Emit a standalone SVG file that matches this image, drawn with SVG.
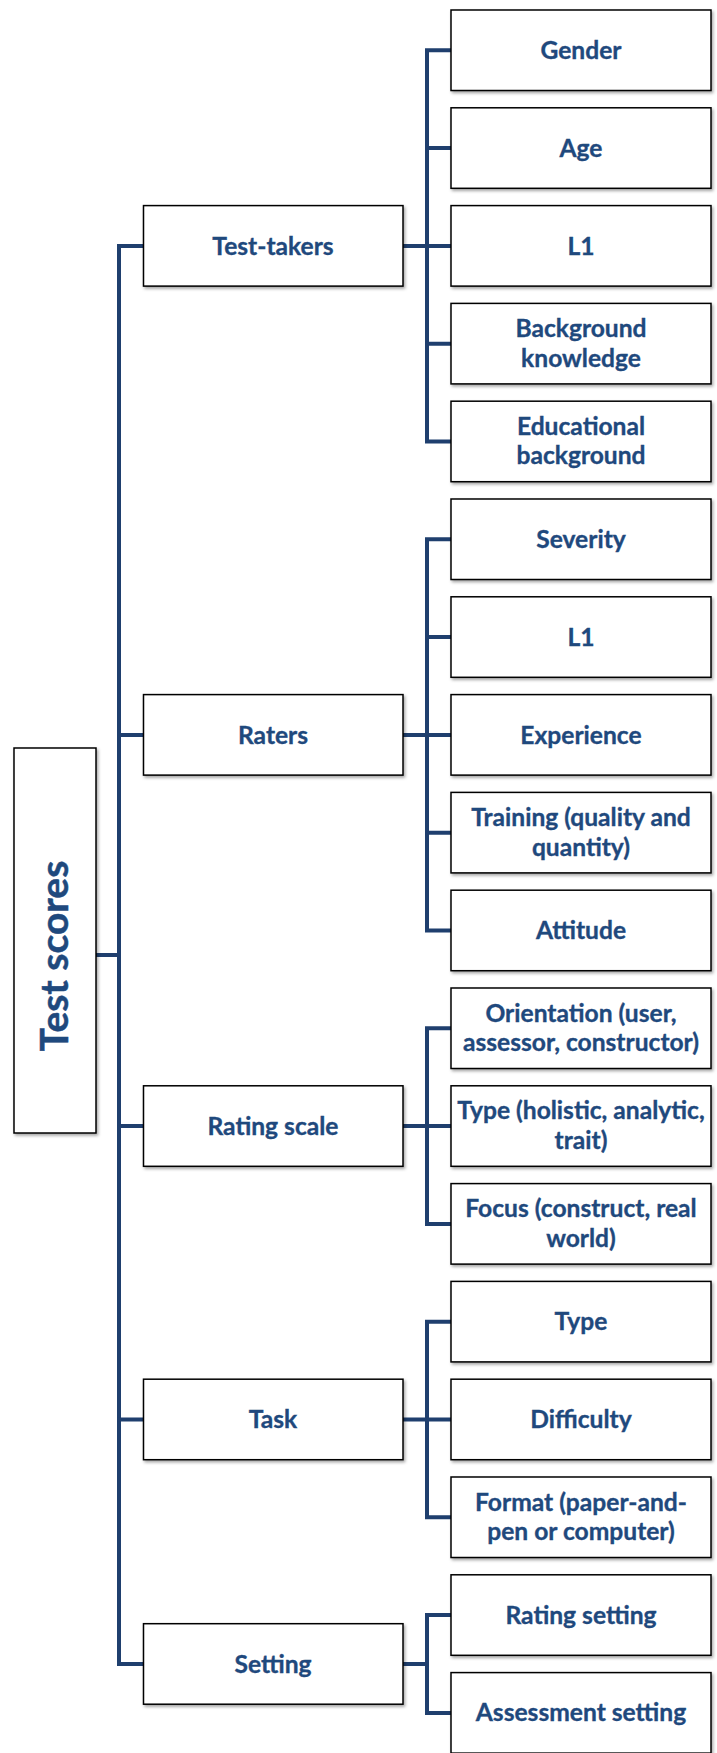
<svg xmlns="http://www.w3.org/2000/svg" width="717" height="1753" viewBox="0 0 717 1753">
  <defs>
    <filter id="shadow" x="-10%" y="-10%" width="130%" height="140%">
      <feDropShadow dx="1.5" dy="2" stdDeviation="1.5" flood-color="#000" flood-opacity="0.35"/>
    </filter>
  </defs>
  <style>
    .box { fill: #ffffff; stroke: #000000; stroke-width: 1.5; filter: url(#shadow); }
    .lbl { font-family: Lato, "Open Sans", "Liberation Sans", sans-serif; font-weight: 700; font-size: 24.6px; fill: #1F497D; stroke: #1F497D; stroke-width: 0.35; text-anchor: middle; }
    .root { font-size: 39px; stroke-width: 0.5; }
    .wire { fill: none; stroke: #1F3F6E; stroke-width: 4; stroke-linecap: square; stroke-linejoin: miter; }
  </style>

  <!-- connectors -->
  <g id="connectors" class="wire">
    <!-- root to category trunk -->
    <path d="M96 955 H119"/>
    <path d="M119 245.9 V1664"/>
    <path d="M119 245.9 H143.5 M119 734.9 H143.5 M119 1126 H143.5 M119 1419.5 H143.5 M119 1664 H143.5"/>
    <!-- Test-takers -->
    <path d="M403 245.9 H427 M427 50.3 V441.5 M427 50.3 H451 M427 148 H451 M427 245.9 H451 M427 343.7 H451 M427 441.5 H451"/>
    <!-- Raters -->
    <path d="M403 734.9 H427 M427 539.3 V930.5 M427 539.3 H451 M427 637 H451 M427 734.9 H451 M427 832.7 H451 M427 930.5 H451"/>
    <!-- Rating scale -->
    <path d="M403 1126 H427 M427 1028.3 V1223.9 M427 1028.3 H451 M427 1126 H451 M427 1223.9 H451"/>
    <!-- Task -->
    <path d="M403 1419.5 H427 M427 1321.7 V1517.3 M427 1321.7 H451 M427 1419.5 H451 M427 1517.3 H451"/>
    <!-- Setting -->
    <path d="M403 1664 H427 M427 1615 V1712.9 M427 1615 H451 M427 1712.9 H451"/>
  </g>

  <!-- root -->
  <g id="test-scores">
    <rect class="box" x="14" y="748" width="82" height="385"/>
    <text class="lbl root" transform="translate(68 956) rotate(-90)" x="0" y="0">Test scores</text>
  </g>

  <!-- categories -->
  <g id="test-takers">
    <rect class="box" x="143.5" y="205.6" width="259.5" height="80.5"/>
    <text class="lbl" x="273" y="254.5">Test-takers</text>
  </g>
  <g id="raters">
    <rect class="box" x="143.5" y="694.6" width="259.5" height="80.5"/>
    <text class="lbl" x="273" y="743.5">Raters</text>
  </g>
  <g id="rating-scale">
    <rect class="box" x="143.5" y="1085.8" width="259.5" height="80.5"/>
    <text class="lbl" x="273" y="1134.5">Rating scale</text>
  </g>
  <g id="task">
    <rect class="box" x="143.5" y="1379.2" width="259.5" height="80.5"/>
    <text class="lbl" x="273" y="1428">Task</text>
  </g>
  <g id="setting">
    <rect class="box" x="143.5" y="1623.7" width="259.5" height="80.5"/>
    <text class="lbl" x="273" y="1672.5">Setting</text>
  </g>

  <!-- Test-takers factors -->
  <g id="gender">
    <rect class="box" x="451" y="10" width="260" height="80.5"/>
    <text class="lbl" x="581" y="58.8">Gender</text>
  </g>
  <g id="age">
    <rect class="box" x="451" y="107.8" width="260" height="80.5"/>
    <text class="lbl" x="581" y="156.5">Age</text>
  </g>
  <g id="l1-test-takers">
    <rect class="box" x="451" y="205.6" width="260" height="80.5"/>
    <text class="lbl" x="581" y="254.5">L1</text>
  </g>
  <g id="background-knowledge">
    <rect class="box" x="451" y="303.4" width="260" height="80.5"/>
    <text class="lbl" x="581" y="337">Background</text>
    <text class="lbl" x="581" y="366.5">knowledge</text>
  </g>
  <g id="educational-background">
    <rect class="box" x="451" y="401.2" width="260" height="80.5"/>
    <text class="lbl" x="581" y="434.8">Educational</text>
    <text class="lbl" x="581" y="464.3">background</text>
  </g>

  <!-- Raters factors -->
  <g id="severity">
    <rect class="box" x="451" y="499" width="260" height="80.5"/>
    <text class="lbl" x="581" y="547.8">Severity</text>
  </g>
  <g id="l1-raters">
    <rect class="box" x="451" y="596.8" width="260" height="80.5"/>
    <text class="lbl" x="581" y="645.5">L1</text>
  </g>
  <g id="experience">
    <rect class="box" x="451" y="694.6" width="260" height="80.5"/>
    <text class="lbl" x="581" y="743.5">Experience</text>
  </g>
  <g id="training">
    <rect class="box" x="451" y="792.4" width="260" height="80.5"/>
    <text class="lbl" x="581" y="826">Training (quality and</text>
    <text class="lbl" x="581" y="855.5">quantity)</text>
  </g>
  <g id="attitude">
    <rect class="box" x="451" y="890.2" width="260" height="80.5"/>
    <text class="lbl" x="581" y="939">Attitude</text>
  </g>

  <!-- Rating scale factors -->
  <g id="orientation">
    <rect class="box" x="451" y="988" width="260" height="80.5"/>
    <text class="lbl" x="581" y="1021.6">Orientation (user,</text>
    <text class="lbl" x="581" y="1051.1">assessor, constructor)</text>
  </g>
  <g id="scale-type">
    <rect class="box" x="451" y="1085.8" width="260" height="80.5"/>
    <text class="lbl" x="581" y="1119.4">Type (holistic, analytic,</text>
    <text class="lbl" x="581" y="1148.9">trait)</text>
  </g>
  <g id="focus">
    <rect class="box" x="451" y="1183.6" width="260" height="80.5"/>
    <text class="lbl" x="581" y="1217.2">Focus (construct, real</text>
    <text class="lbl" x="581" y="1246.7">world)</text>
  </g>

  <!-- Task factors -->
  <g id="task-type">
    <rect class="box" x="451" y="1281.4" width="260" height="80.5"/>
    <text class="lbl" x="581" y="1330.2">Type</text>
  </g>
  <g id="difficulty">
    <rect class="box" x="451" y="1379.2" width="260" height="80.5"/>
    <text class="lbl" x="581" y="1428">Difficulty</text>
  </g>
  <g id="format">
    <rect class="box" x="451" y="1477" width="260" height="80.5"/>
    <text class="lbl" x="581" y="1510.6">Format (paper-and-</text>
    <text class="lbl" x="581" y="1540.1">pen or computer)</text>
  </g>

  <!-- Setting factors -->
  <g id="rating-setting">
    <rect class="box" x="451" y="1574.8" width="260" height="80.5"/>
    <text class="lbl" x="581" y="1623.6">Rating setting</text>
  </g>
  <g id="assessment-setting">
    <rect class="box" x="451" y="1672.6" width="260" height="80.5"/>
    <text class="lbl" x="581" y="1721.4">Assessment setting</text>
  </g>
</svg>
